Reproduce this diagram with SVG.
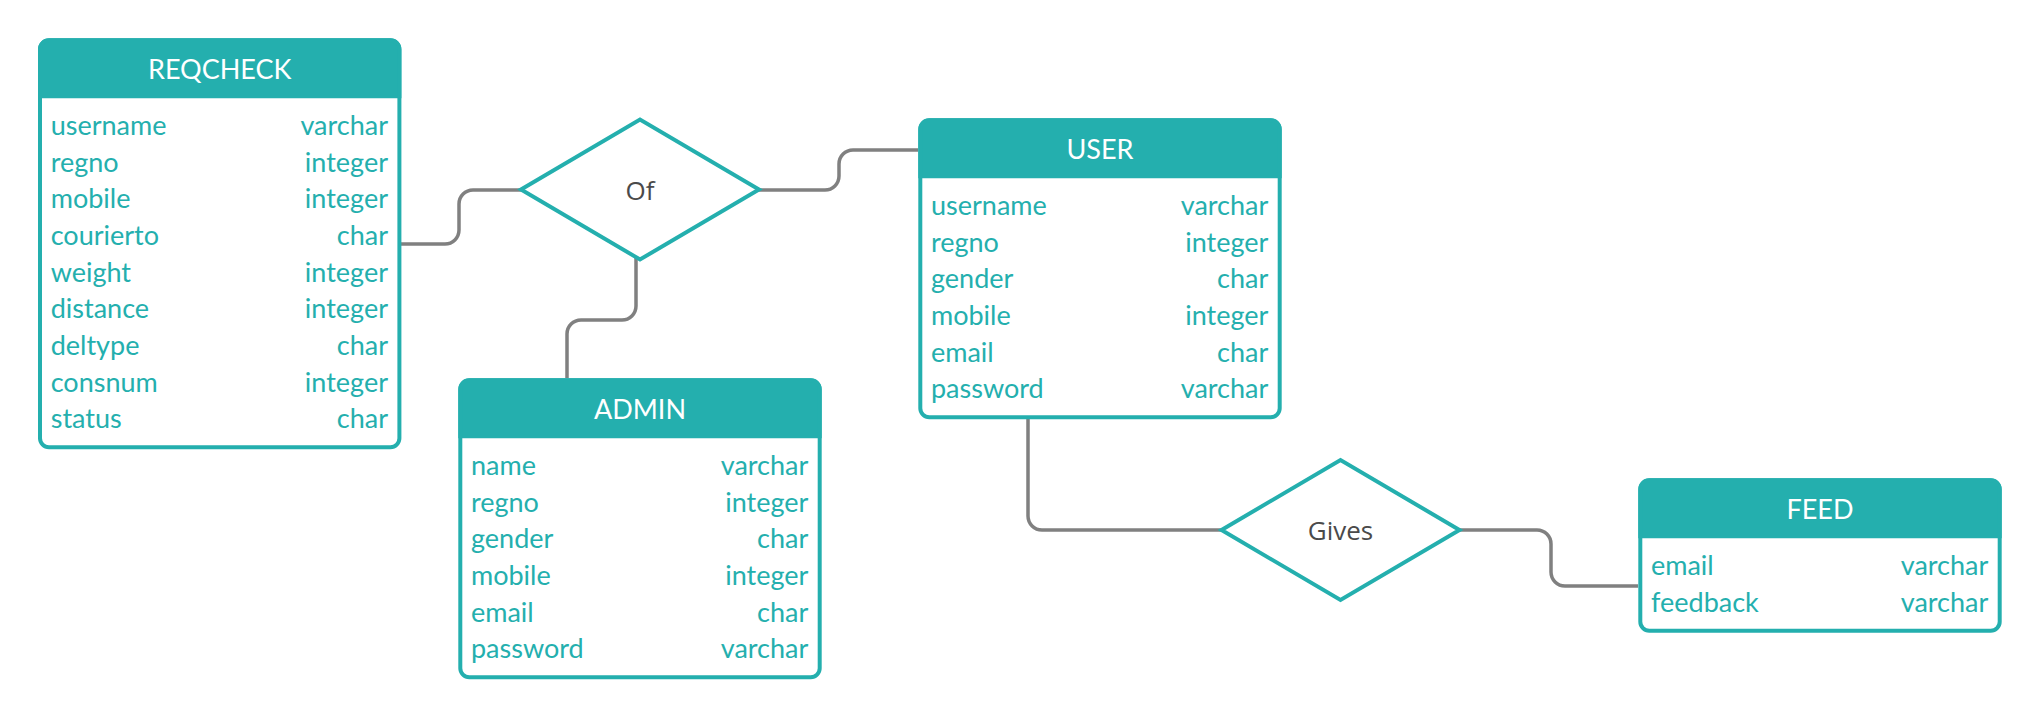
<svg xmlns="http://www.w3.org/2000/svg" width="2040" height="718" viewBox="0 0 2040 718">
<style>
.hdr{fill:#24afae}
.frame{fill:none;stroke:#24afae;stroke-width:4}
.title{font-family:Lato,"Liberation Sans",sans-serif;font-size:27px;fill:#ffffff;text-anchor:middle}
.f{font-family:Lato,"Liberation Sans",sans-serif;font-size:27px;fill:#24afae}
.t{font-family:Lato,"Liberation Sans",sans-serif;font-size:27px;fill:#24afae;text-anchor:end}
.dia{fill:#ffffff;stroke:#24afae;stroke-width:4}
.rl{font-family:"Open Sans","Liberation Sans",sans-serif;font-size:26px;fill:#4a4a4a;text-anchor:middle}
.conn{fill:none;stroke:#808080;stroke-width:3.5}
</style>
<rect width="2040" height="718" fill="#ffffff"/>
<g id="connectors">
<path class="conn" d="M401 244 H445 A14 14 0 0 0 459 230 V204 A14 14 0 0 1 473 190 H521"/>
<path class="conn" d="M759 190 H825 A14 14 0 0 0 839 176 V164 A14 14 0 0 1 853 150 H918"/>
<path class="conn" d="M636 257 V306 A14 14 0 0 1 622 320 H581 A14 14 0 0 0 567 334 V378"/>
<path class="conn" d="M1028 419 V516 A14 14 0 0 0 1042 530 H1221"/>
<path class="conn" d="M1460 530 H1537 A14 14 0 0 1 1551 544 V572 A14 14 0 0 0 1565 586 H1638"/>
</g>
<g id="of">
<polygon class="dia" points="521,189.5 640,119.5 759,189.5 640,259.5"/>
<text class="rl" x="640" y="199.5">Of</text>
</g>
<g id="gives">
<polygon class="dia" points="1221.5,530 1340.5,460 1459.5,530 1340.5,600"/>
<text class="rl" x="1340.5" y="539.5">Gives</text>
</g>
<g id="reqcheck" transform="translate(38,38.3)">
<rect x="2" y="2" width="359.4" height="407" rx="9" fill="#ffffff"/>
<path class="hdr" d="M0 60 V11 A11 11 0 0 1 11 0 H352.4 A11 11 0 0 1 363.4 11 V60 Z"/>
<rect class="frame" x="2" y="2" width="359.4" height="407" rx="9"/>
<text class="title" x="181.7" y="41">REQCHECK</text>
<text class="f" x="12.7" y="96.7">username</text><text class="t" x="350" y="96.7">varchar</text>
<text class="f" x="12.7" y="133.4">regno</text><text class="t" x="350" y="133.4">integer</text>
<text class="f" x="12.7" y="170">mobile</text><text class="t" x="350" y="170">integer</text>
<text class="f" x="12.7" y="206.7">courierto</text><text class="t" x="350" y="206.7">char</text>
<text class="f" x="12.7" y="243.4">weight</text><text class="t" x="350" y="243.4">integer</text>
<text class="f" x="12.7" y="280">distance</text><text class="t" x="350" y="280">integer</text>
<text class="f" x="12.7" y="316.7">deltype</text><text class="t" x="350" y="316.7">char</text>
<text class="f" x="12.7" y="353.4">consnum</text><text class="t" x="350" y="353.4">integer</text>
<text class="f" x="12.7" y="390">status</text><text class="t" x="350" y="390">char</text>
</g>
<g id="admin" transform="translate(458.3,378.3)">
<rect x="2" y="2" width="359.4" height="297" rx="9" fill="#ffffff"/>
<path class="hdr" d="M0 60 V11 A11 11 0 0 1 11 0 H352.4 A11 11 0 0 1 363.4 11 V60 Z"/>
<rect class="frame" x="2" y="2" width="359.4" height="297" rx="9"/>
<text class="title" x="181.7" y="41">ADMIN</text>
<text class="f" x="12.7" y="96.7">name</text><text class="t" x="350" y="96.7">varchar</text>
<text class="f" x="12.7" y="133.4">regno</text><text class="t" x="350" y="133.4">integer</text>
<text class="f" x="12.7" y="170">gender</text><text class="t" x="350" y="170">char</text>
<text class="f" x="12.7" y="206.7">mobile</text><text class="t" x="350" y="206.7">integer</text>
<text class="f" x="12.7" y="243.4">email</text><text class="t" x="350" y="243.4">char</text>
<text class="f" x="12.7" y="280">password</text><text class="t" x="350" y="280">varchar</text>
</g>
<g id="user" transform="translate(918.3,118.3)">
<rect x="2" y="2" width="359.4" height="297" rx="9" fill="#ffffff"/>
<path class="hdr" d="M0 60 V11 A11 11 0 0 1 11 0 H352.4 A11 11 0 0 1 363.4 11 V60 Z"/>
<rect class="frame" x="2" y="2" width="359.4" height="297" rx="9"/>
<text class="title" x="181.7" y="41">USER</text>
<text class="f" x="12.7" y="96.7">username</text><text class="t" x="350" y="96.7">varchar</text>
<text class="f" x="12.7" y="133.4">regno</text><text class="t" x="350" y="133.4">integer</text>
<text class="f" x="12.7" y="170">gender</text><text class="t" x="350" y="170">char</text>
<text class="f" x="12.7" y="206.7">mobile</text><text class="t" x="350" y="206.7">integer</text>
<text class="f" x="12.7" y="243.4">email</text><text class="t" x="350" y="243.4">char</text>
<text class="f" x="12.7" y="280">password</text><text class="t" x="350" y="280">varchar</text>
</g>
<g id="feed" transform="translate(1638.3,478.3)">
<rect x="2" y="2" width="359.4" height="150.4" rx="9" fill="#ffffff"/>
<path class="hdr" d="M0 60 V11 A11 11 0 0 1 11 0 H352.4 A11 11 0 0 1 363.4 11 V60 Z"/>
<rect class="frame" x="2" y="2" width="359.4" height="150.4" rx="9"/>
<text class="title" x="181.7" y="41">FEED</text>
<text class="f" x="12.7" y="96.7">email</text><text class="t" x="350" y="96.7">varchar</text>
<text class="f" x="12.7" y="133.4">feedback</text><text class="t" x="350" y="133.4">varchar</text>
</g>
</svg>
